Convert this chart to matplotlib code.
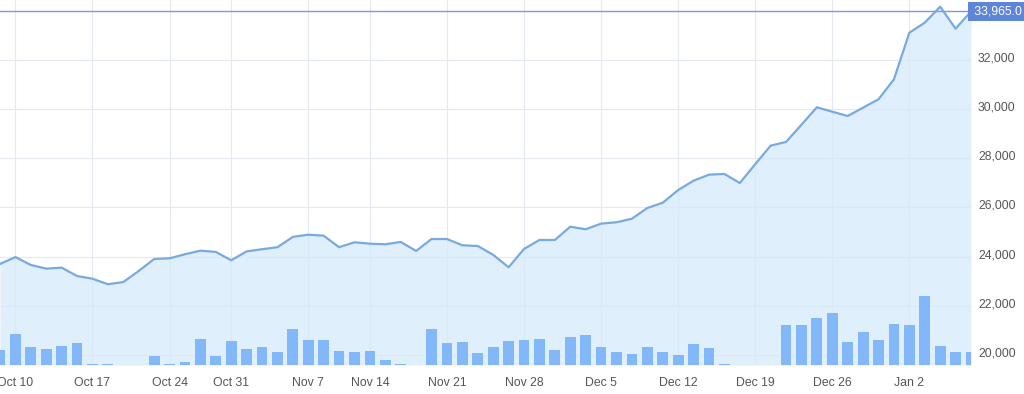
import matplotlib
matplotlib.use("Agg")
import matplotlib.pyplot as plt
import matplotlib.transforms as mtransforms
import numpy as np

plt.rcParams["font.family"] = ["Liberation Sans", "DejaVu Sans"]

# daily closes (trading days, Oct 7 .. Jan 6)
prices = [23700, 23980, 23660, 23510, 23550, 23210, 23100, 22875, 22965, 23415,
          23900, 23930, 24095, 24240, 24190, 23850, 24210, 24300, 24380, 24800,
          24890, 24850, 24380, 24580, 24525, 24500, 24595, 24230, 24715, 24715,
          24460, 24430, 24070, 23565, 24310, 24675, 24675, 25215, 25110, 25340,
          25395, 25540, 25975, 26190, 26705, 27085, 27330, 27360, 26990, 27755,
          28510, 28660, 29360, 30070, 29890, 29715, 30055, 30395, 31205, 33100,
          33510, 34160, 33265, 33965]

volumes = [147, 313, 183, 163, 193, 223, 10, 10, 0, 0,
           87, 10, 30, 263, 87, 243, 163, 183, 133, 360,
           253, 253, 143, 127, 137, 47, 15, 0, 360, 223,
           233, 117, 180, 240, 250, 260, 153, 280, 300, 180,
           133, 107, 183, 133, 103, 207, 173, 15, 0, 0,
           0, 400, 400, 470, 520, 233, 330, 253, 413, 400,
           690, 193, 130, 130]

tick_idx = [1, 6, 11, 15, 20, 24, 29, 34, 39, 44, 49, 54, 59]
tick_labels = ["Oct 10", "Oct 17", "Oct 24", "Oct 31", "Nov 7", "Nov 14",
               "Nov 21", "Nov 28", "Dec 5", "Dec 12", "Dec 19", "Dec 26", "Jan 2"]

last_price = 33965.0
price_ticks = [20000, 22000, 24000, 26000, 28000, 30000, 32000]

x = np.arange(len(prices))

fig = plt.figure(figsize=(10.24, 3.94), dpi=100)
ax = fig.add_axes([0.0, 29 / 394, 971 / 1024, 365 / 394])

# volume bars on a hidden twin axis
ax2 = ax.twinx()
ax2.set_ylim(0, 3650)
ax2.bar(x, volumes, width=0.7, color="#82b7f9", zorder=2)
ax2.set_yticks([])
for s in ax2.spines.values():
    s.set_visible(False)

ax.set_xlim(0, len(prices) - 1)
ax.set_ylim(19593, 34431)

ax.fill_between(x, prices, 19593, color="#d4e9fc", alpha=0.7, lw=0, zorder=1)
ax.plot(x, prices, color="#78aadf", lw=1.6, zorder=3)
ax.axhline(last_price, color="#7f95dd", lw=1.0, zorder=2)

ax.set_axisbelow(True)
ax.grid(True, color="#e4e9ef", lw=0.8)
for s in ax.spines.values():
    s.set_visible(False)

ax.set_xticks(tick_idx)
ax.set_xticklabels(tick_labels)
ax.yaxis.tick_right()
ax.set_yticks(price_ticks)
ax.set_yticklabels([f"{v:,}" for v in price_ticks])
ax.tick_params(axis="both", length=0, labelsize=8.8, colors="#555555")
ax.tick_params(axis="x", pad=9)
ax.tick_params(axis="y", pad=5)
shift = mtransforms.ScaledTranslation(0, 3 / 100, fig.dpi_scale_trans)
for lab in ax.get_yticklabels():
    lab.set_transform(lab.get_transform() + shift)

ax.text(1.0, last_price, f" {last_price:,.1f}", transform=ax.get_yaxis_transform(),
        ha="left", va="center", color="white", fontsize=8.8,
        bbox=dict(boxstyle="square,pad=0.25", fc="#5f85d9", ec="none"),
        clip_on=False, zorder=5)

fig.savefig("out.png", dpi=100)
